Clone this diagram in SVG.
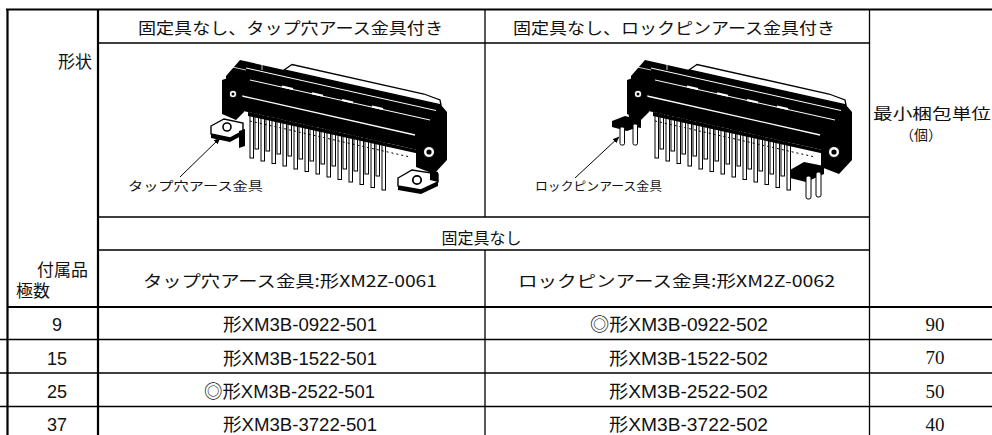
<svg xmlns="http://www.w3.org/2000/svg" xmlns:xlink="http://www.w3.org/1999/xlink" width="992" height="435" viewBox="0 0 992 435">
<style>
.thin{stroke:#000;stroke-width:1.3;fill:none}
.thick{stroke:#000;stroke-width:2.2;fill:none}
.jp{font-family:'Noto Sans CJK JP','Liberation Sans',sans-serif;fill:#111}
.sans{font-family:'Liberation Sans','Noto Sans CJK JP',sans-serif;fill:#111}
.serif{font-family:'Liberation Serif','Noto Sans CJK JP',serif;fill:#111}
.pin{fill:#fff;stroke:#000;stroke-width:1}
.blk{fill:#000}
.wl{stroke:#fff;fill:none}
.plate{fill:#fff;stroke:#000;stroke-width:1.4}
.lead{stroke:#000;stroke-width:1;fill:none}
</style>
<defs>
<marker id="ah" viewBox="0 0 10 10" refX="9" refY="5" markerWidth="7" markerHeight="7" orient="auto">
<path d="M0,1 L10,5 L0,9 Z" fill="#000"/>
</marker>
<g id="conn">
<!-- rear pins -->
<rect class="pin" x="255" y="109" width="3.5" height="40"/>
<rect class="pin" x="266" y="111" width="3.5" height="40"/>
<rect class="pin" x="277" y="114" width="3.5" height="40"/>
<rect class="pin" x="288" y="116" width="3.5" height="40"/>
<rect class="pin" x="299" y="119" width="3.5" height="40"/>
<rect class="pin" x="310" y="121" width="3.5" height="40"/>
<rect class="pin" x="321" y="124" width="3.5" height="40"/>
<rect class="pin" x="332" y="126" width="3.5" height="40"/>
<rect class="pin" x="343" y="129" width="3.5" height="40"/>
<rect class="pin" x="354" y="131" width="3.5" height="40"/>
<rect class="pin" x="365" y="134" width="3.5" height="40"/>
<rect class="pin" x="376" y="136" width="3.5" height="40"/>
<!-- front pins -->
<rect class="pin" x="250" y="110" width="3.5" height="48"/>
<rect class="pin" x="261" y="113" width="3.5" height="48"/>
<rect class="pin" x="272" y="115" width="3.5" height="48.5"/>
<rect class="pin" x="283" y="118" width="3.5" height="48"/>
<rect class="pin" x="294" y="120" width="3.5" height="49"/>
<rect class="pin" x="305" y="123" width="3.5" height="48.5"/>
<rect class="pin" x="316" y="125" width="3.5" height="49"/>
<rect class="pin" x="327" y="128" width="3.5" height="49"/>
<rect class="pin" x="338" y="130" width="3.5" height="49.5"/>
<rect class="pin" x="349" y="133" width="3.5" height="49"/>
<rect class="pin" x="360" y="135" width="3.5" height="49.5"/>
<rect class="pin" x="371" y="138" width="3.5" height="49.5"/>
<rect class="pin" x="382" y="140" width="3.5" height="50"/>
<!-- pin base comb -->
<path class="blk" d="M248,112 L420,150.5 L420,154 L248,116 Z"/>
<path fill="none" stroke="#000" stroke-width="1" stroke-dasharray="2 3" d="M250,121 L410,157"/>
<!-- shell -->
<path d="M284,70 L292,64.5 L424,94 L440,100 L441,105 Z" fill="#fff" stroke="#000" stroke-width="1.3"/>
<!-- body -->
<path class="blk" d="M226,76 L240,60 L441,105 L447,112 L447,158 L436,168 L420,160 L420,150.5 L248,112 L226,108 Z"/>
<path class="wl" stroke-width="1" d="M246,68 L436,110.5"/>
<path class="wl" stroke-width="1" d="M250,80 L430,120"/>
<path class="wl" stroke-width="1.3" d="M242,96 L415,135"/>
<path class="wl" stroke-width="0.8" d="M262,62 L262,70 M232,67 L246,70"/>
<path class="wl" stroke-width="2" d="M282,86.5 L293,89 M312,93.2 L323,95.7 M342,99.9 L353,102.4 M372,106.6 L383,109.1"/>
<!-- left flange -->
<path class="blk" d="M222,80 L240,74 L244,112 L236,120 L222,114 Z"/>
<circle cx="233" cy="94" r="3.8" fill="#fff" stroke="#000" stroke-width="1"/>
<circle cx="233" cy="94" r="1.5" fill="#000"/>
<!-- right flange -->
<path class="blk" d="M416,140 L446,144 L447,160 L434,174 L416,167 Z"/>
<circle cx="429" cy="152" r="5.5" fill="#fff" stroke="#000" stroke-width="1"/>
<circle cx="429" cy="152" r="2.6" fill="#000"/>
</g>
</defs>

<g id="grid">
<path class="thick" d="M6,9.5 H992 M7.5,9 V435 M98,9 V435 M7,307 H992"/>
<path class="thin" d="M485,9 V217 M485,250 V435 M869.5,9 V435 M98,43 H869.5 M98,217 H869.5 M98,250 H869.5 M0,339.5 H992 M0,373 H992 M0,406.5 H992"/>
</g>

<g id="hdr-shape"><text class="jp" x="92" y="68" font-size="17" text-anchor="end">形状</text></g>
<g id="hdr-tap"><text class="jp" x="138" y="34" font-size="16" textLength="305" lengthAdjust="spacingAndGlyphs">固定具なし、タップ穴アース金具付き</text></g>
<g id="hdr-lock"><text class="jp" x="513" y="34" font-size="16" textLength="322" lengthAdjust="spacingAndGlyphs">固定具なし、ロックピンアース金具付き</text></g>
<g id="hdr-unit">
<text class="jp" x="873" y="118.5" font-size="15" textLength="118" lengthAdjust="spacingAndGlyphs">最小梱包単位</text>
<text class="jp" x="921" y="139.5" font-size="14" text-anchor="middle">（個）</text>
</g>

<g id="img-tap">
<use xlink:href="#conn"/>
<path class="plate" d="M211,126 L224,119 L243,123 L243,131 L230,138 L211,134 Z"/>
<path class="blk" d="M211,134 L230,138 L243,131 L243,135 L230,142 L211,138 Z"/>
<path class="blk" d="M239,131 L245,129 L245,146 L239,148 Z"/>
<circle cx="227" cy="127" r="4" fill="#fff" stroke="#000" stroke-width="1.6"/>
<path class="plate" d="M398,178 L412,170 L438,174 L438,182 L421,190 L398,186 Z"/>
<path class="blk" d="M398,186 L421,190 L438,182 L438,186 L421,194 L398,190 Z"/>
<path class="blk" d="M430,170 L438,172 L438,182 L430,180 Z"/>
<circle cx="417" cy="180" r="4.2" fill="#fff" stroke="#000" stroke-width="1.8"/>
<text class="jp" x="128" y="191" font-size="12" textLength="135" lengthAdjust="spacingAndGlyphs">タップ穴アース金具</text>
</g>

<g id="img-lock">
<use xlink:href="#conn" transform="translate(405,0)"/>
<path class="blk" d="M628,108 L640,112 L641,128 L630,126 Z"/>
<path class="blk" d="M612,121 L625,116 L641,120 L641,126 L627,131 L612,127 Z"/>
<rect class="pin" x="620" y="127" width="4.5" height="18" rx="1.5"/>
<rect class="pin" x="633" y="124" width="4.5" height="21" rx="1.5"/>
<path class="blk" d="M790,170 L804,162 L824,166 L824,174 L806,182 L790,178 Z"/>
<rect class="pin" x="806" y="176" width="5" height="23" rx="2"/>
<rect class="pin" x="816" y="172" width="5" height="25" rx="2"/>
<text class="jp" x="535" y="191" font-size="12" textLength="127" lengthAdjust="spacingAndGlyphs">ロックピンアース金具</text>
</g>

<g id="connectors">
<path class="lead" d="M180,177 L220,138" marker-end="url(#ah)"/>
<path class="lead" d="M575,178 L619,137" marker-end="url(#ah)"/>
</g>

<g id="hdr-fix"><text class="jp" x="481.5" y="244" font-size="16" text-anchor="middle">固定具なし</text></g>
<g id="hdr-acc">
<text class="jp" x="88" y="276" font-size="17" text-anchor="end">付属品</text>
<text class="jp" x="16" y="297" font-size="17">極数</text>
</g>
<g id="acc-tap"><text class="jp" x="143" y="287" font-size="16" textLength="294" lengthAdjust="spacingAndGlyphs">タップ穴アース金具:形XM2Z-0061</text></g>
<g id="acc-lock"><text class="jp" x="518" y="287" font-size="16" textLength="317" lengthAdjust="spacingAndGlyphs">ロックピンアース金具:形XM2Z-0062</text></g>

<g id="row-9">
<text class="sans" x="57" y="331" font-size="18" text-anchor="middle">9</text>
<text class="sans" x="223" y="331" font-size="18" textLength="154" lengthAdjust="spacingAndGlyphs">形XM3B-0922-501</text>
<text class="sans" x="590" y="331" font-size="18" textLength="178" lengthAdjust="spacingAndGlyphs">◎形XM3B-0922-502</text>
<text class="serif" x="935" y="330.5" font-size="19" text-anchor="middle">90</text>
</g>
<g id="row-15">
<text class="sans" x="57" y="364.5" font-size="18" text-anchor="middle">15</text>
<text class="sans" x="223" y="364.5" font-size="18" textLength="154" lengthAdjust="spacingAndGlyphs">形XM3B-1522-501</text>
<text class="sans" x="609" y="364.5" font-size="18" textLength="159" lengthAdjust="spacingAndGlyphs">形XM3B-1522-502</text>
<text class="serif" x="935" y="364" font-size="19" text-anchor="middle">70</text>
</g>
<g id="row-25">
<text class="sans" x="57" y="398" font-size="18" text-anchor="middle">25</text>
<text class="sans" x="204" y="398" font-size="18" textLength="171" lengthAdjust="spacingAndGlyphs">◎形XM3B-2522-501</text>
<text class="sans" x="609" y="398" font-size="18" textLength="159" lengthAdjust="spacingAndGlyphs">形XM3B-2522-502</text>
<text class="serif" x="935" y="397.5" font-size="19" text-anchor="middle">50</text>
</g>
<g id="row-37">
<text class="sans" x="57" y="431" font-size="18" text-anchor="middle">37</text>
<text class="sans" x="223" y="431" font-size="18" textLength="154" lengthAdjust="spacingAndGlyphs">形XM3B-3722-501</text>
<text class="sans" x="609" y="431" font-size="18" textLength="159" lengthAdjust="spacingAndGlyphs">形XM3B-3722-502</text>
<text class="serif" x="935" y="430.5" font-size="19" text-anchor="middle">40</text>
</g>
</svg>
